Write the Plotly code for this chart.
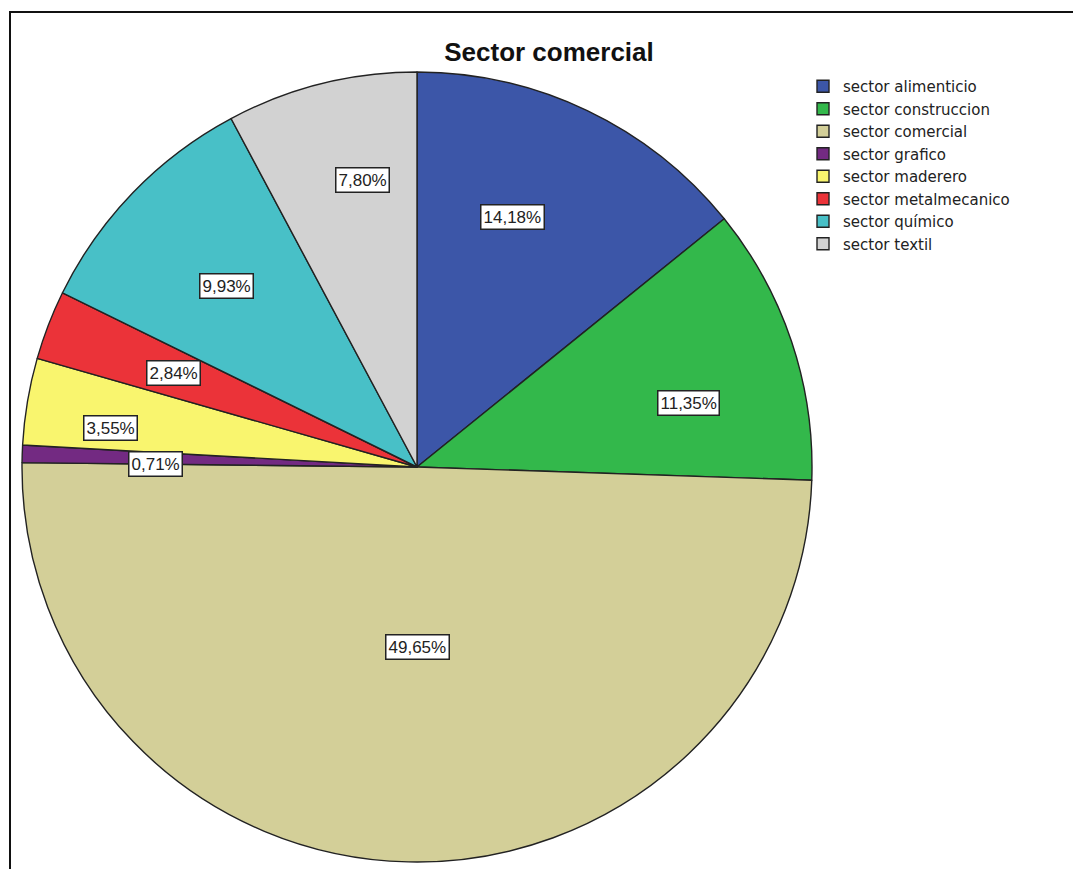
import math
import plotly.graph_objects as go

labels = ["sector alimenticio", "sector construccion", "sector comercial", "sector grafico",
          "sector maderero", "sector metalmecanico", "sector químico", "sector textil"]
counts = [20, 16, 70, 1, 5, 4, 14, 11]
pct_text = ["14,18%", "11,35%", "49,65%", "0,71%", "3,55%", "2,84%", "9,93%", "7,80%"]

colors = ["#3c56a8", "#33b84b", "#d3cf98", "#732a82", "#f9f56e", "#eb3339", "#48c0c7", "#d2d2d2"]
label_radius = [0.677, 0.707, 0.456, 0.663, 0.781, 0.66, 0.666, 0.739]
label_angle_shift = [-4.7, 5.3, -1.3, -1.2, -2.3, 0, -0.5, 3.3]

W, H = 1073, 869
cx, cy, r = 417, 467, 395  # pixel geometry of the pie (layout)

fig = go.Figure(go.Pie(
    labels=labels, values=counts, sort=False, direction="clockwise", rotation=0,
    marker=dict(colors=colors, line=dict(color="#222222", width=1.4)),
    textinfo="none", hoverinfo="label+percent",
    domain=dict(x=[(cx - r) / W, (cx + r) / W], y=[1 - (cy + r) / H, 1 - (cy - r) / H]),
))

total = sum(counts)
cum = 0
for i, v in enumerate(counts):
    mid = (cum + v / 2) / total * 360 + label_angle_shift[i]
    cum += v
    a = math.radians(mid)
    px = cx + r * label_radius[i] * math.sin(a)
    py = cy - r * label_radius[i] * math.cos(a)
    fig.add_annotation(x=px / W, y=1 - py / H, xref="paper", yref="paper", text=pct_text[i],
                       xanchor="center", yanchor="middle",
                       showarrow=False, bgcolor="white", bordercolor="#222222", borderwidth=1.5,
                       borderpad=2, font=dict(family="Liberation Sans, Arial", size=17, color="#222222"))

fig.add_shape(type="rect", xref="paper", yref="paper", x0=10 / W, x1=1.05, y0=-0.05, y1=1 - 12 / H,
              line=dict(color="#111111", width=2))

fig.update_layout(
    width=W, height=H, margin=dict(l=0, r=0, t=0, b=0),
    paper_bgcolor="white", plot_bgcolor="white",
    title=dict(text="<b>Sector comercial</b>", x=549 / W, xanchor="center", y=1 - 52 / H, yanchor="middle",
               font=dict(family="Liberation Sans, Arial", size=26, color="#111111")),
    legend=dict(x=803 / W, xanchor="left", y=1 - 70 / H, yanchor="top",
                font=dict(family="DejaVu Sans", size=15, color="#222222"),
                itemwidth=30, tracegroupgap=0, bgcolor="rgba(0,0,0,0)"),
)

fig.write_html("out.html", config={"displayModeBar": False},
               post_script="document.body.style.margin='0';document.body.style.overflow='hidden';")
